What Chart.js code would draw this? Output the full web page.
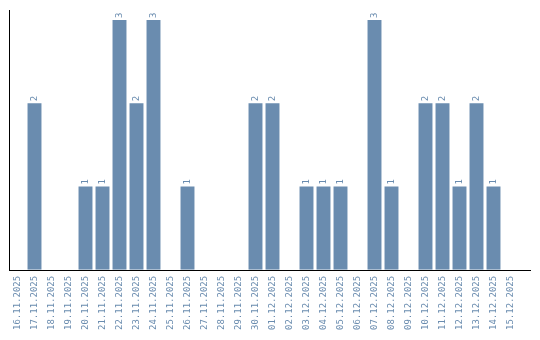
<!DOCTYPE html>
<html>
<head>
<meta charset="utf-8">
<script src="https://cdn.jsdelivr.net/npm/chart.js@4"></script>
<style>
    body { margin: 0; background: #fff; }
</style>
</head>
<body>
<canvas id="chart" width="540" height="340"></canvas>
<script>
// Daily counts
const dates = [
    '16.11.2025', '17.11.2025', '18.11.2025', '19.11.2025', '20.11.2025',
    '21.11.2025', '22.11.2025', '23.11.2025', '24.11.2025', '25.11.2025',
    '26.11.2025', '27.11.2025', '28.11.2025', '29.11.2025', '30.11.2025',
    '01.12.2025', '02.12.2025', '03.12.2025', '04.12.2025', '05.12.2025',
    '06.12.2025', '07.12.2025', '08.12.2025', '09.12.2025', '10.12.2025',
    '11.12.2025', '12.12.2025', '13.12.2025', '14.12.2025', '15.12.2025'
];
const counts = [
    0, 2, 0, 0, 1,
    1, 3, 2, 3, 0,
    1, 0, 0, 0, 2,
    2, 0, 1, 1, 1,
    0, 3, 1, 0, 2,
    2, 1, 2, 1, 0
];

const barColor = '#6a8caf';
const textFont = '9px "DejaVu Sans Mono", monospace';

// Draw the value above each bar, rotated, plus the x axis line
// which runs a bit past the last day
const valueLabels = {
    id: 'valueLabels',
    afterDatasetsDraw(chart) {
        const ctx = chart.ctx;
        const area = chart.chartArea;
        const meta = chart.getDatasetMeta(0);
        ctx.save();
        ctx.strokeStyle = '#000';
        ctx.lineWidth = 1;
        ctx.beginPath();
        ctx.moveTo(area.left, Math.round(area.bottom) + 0.5);
        ctx.lineTo(area.right + 12, Math.round(area.bottom) + 0.5);
        ctx.stroke();

        ctx.font = textFont;
        ctx.fillStyle = barColor;
        ctx.textAlign = 'left';
        ctx.textBaseline = 'middle';
        meta.data.forEach((bar, i) => {
            if (!counts[i]) return;
            ctx.save();
            ctx.translate(bar.x, bar.y - 2);
            ctx.rotate(-Math.PI / 2);
            ctx.fillText(String(counts[i]), 0, 0);
            ctx.restore();
        });
        ctx.restore();
    }
};

new Chart(document.getElementById('chart'), {
    type: 'bar',
    data: {
        labels: dates,
        datasets: [{
            data: counts,
            backgroundColor: barColor,
            barPercentage: 0.82,
            categoryPercentage: 1.0
        }]
    },
    options: {
        responsive: false,
        animation: false,
        layout: {
            padding: { left: 9, right: 21, top: 10, bottom: 4 }
        },
        plugins: {
            legend: { display: false },
            tooltip: { enabled: false }
        },
        scales: {
            x: {
                grid: { display: false, drawTicks: false },
                border: { display: false },
                ticks: {
                    color: barColor,
                    font: { family: '"DejaVu Sans Mono", monospace', size: 9 },
                    minRotation: 90,
                    maxRotation: 90,
                    autoSkip: false,
                    padding: 6
                }
            },
            y: {
                min: 0,
                max: 3.12,
                grid: { display: false, drawTicks: false },
                border: { color: '#000', width: 1 },
                ticks: { display: false }
            }
        }
    },
    plugins: [valueLabels]
});
</script>
</body>
</html>
